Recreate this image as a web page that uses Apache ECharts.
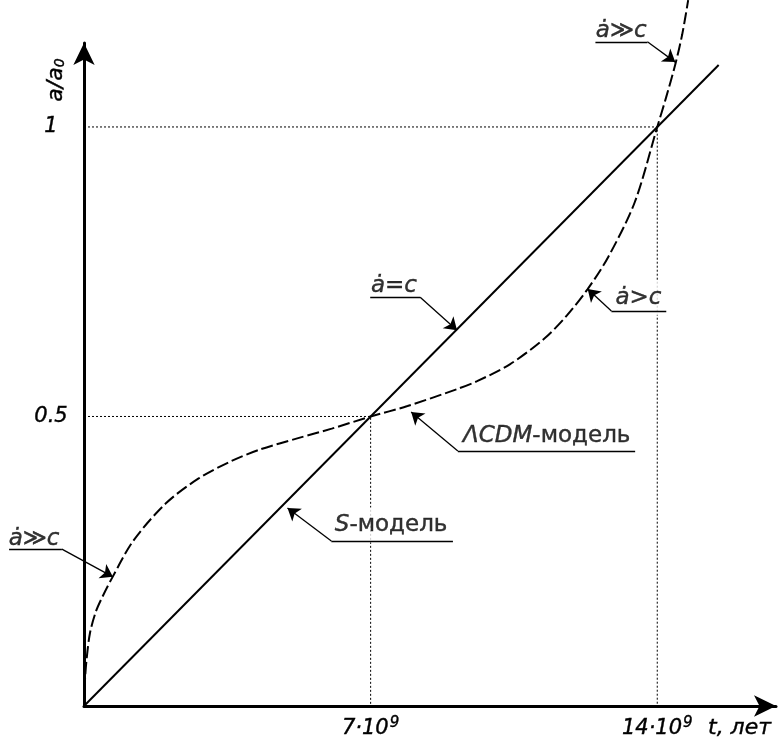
<!DOCTYPE html>
<html>
<head>
<meta charset="utf-8">
<script src="https://cdn.jsdelivr.net/npm/echarts@6/dist/echarts.min.js"></script>
<style>html,body{margin:0;padding:0;background:#fff}#c{width:779px;height:745px}</style>
</head>
<body>
<div id="c"></div>
<script>
// ΛCDM model curve (t in 10^9 years, a/a0)
const lcdmT = [0, 0.007, 0.024, 0.061, 0.146, 0.29, 0.46, 0.7, 1.2, 2.0, 2.8, 3.6, 4.3, 5.25, 6.05, 7.0, 7.9, 9.1, 9.6, 10.4, 11.25, 11.8, 12.3, 12.8, 13.45, 14.0, 14.22, 14.44, 14.61, 14.755];
const lcdmA = [0, 0.019, 0.045, 0.079, 0.126, 0.163, 0.19, 0.223, 0.285, 0.35, 0.393, 0.423, 0.443, 0.463, 0.479, 0.5, 0.518, 0.547, 0.561, 0.59, 0.635, 0.675, 0.72, 0.775, 0.87, 1.0, 1.052, 1.108, 1.16, 1.219];
// S-model straight line
const sT = [0, 15.5];
const sA = [0, 1.107];
// reference (dotted) lines
const ref1T = [0, 14, 14], ref1A = [1, 1, 0];
const ref2T = [0, 7, 7], ref2A = [0.5, 0.5, 0];
// tick labels
const xTickValues = [7, 14];
const xTickLabels = ['{n|7·10}{s|9}', '{n|14·10}{s|9}'];
const yTickValues = [0.5, 1];
const yTickLabels = ['0.5', '1'];
// annotations: text, text position, underline (start, end), arrow tip
const annTexts = ['{i|ȧ≫c}', '{i|ȧ=c}', '{i|ȧ>c}', '{i|ΛCDM}{n|-модель}', '{i|S}{n|-модель}', '{i|ȧ≫c}'];
const annTextT = [13.12, 7.57, 13.54, 11.30, 7.50, -1.22];
const annTextA = [1.166, 0.725, 0.705, 0.4663, 0.3126, 0.288];
const underT = [[12.49, 13.76], [6.99, 8.21], [14.22, 12.88], [13.46, 9.13], [9.01, 6.04], [-1.83, -0.54]];
const underA = [[1.147, 1.147], [0.706, 0.706], [0.682, 0.682], [0.4404, 0.4404], [0.285, 0.285], [0.271, 0.271]];
const tipT = [14.44, 9.11, 12.30, 7.99, 4.97, 0.706];
const tipA = [1.112, 0.649, 0.720, 0.5078, 0.342, 0.223];

const FONT = 'DejaVu Sans';
const TB = {textBorderColor: '#000', textBorderWidth: 0.4};
const zip = (a, b) => a.map((v, i) => [v, b[i]]);
const chart = echarts.init(document.getElementById('c'), null, {renderer: 'canvas'});

chart.setOption({
  backgroundColor: '#fff',
  animation: false,
  grid: {left: 84, right: 1, top: 43, bottom: 39},
  xAxis: {
    type: 'value', min: 0, max: 16.9, interval: 7,
    axisLine: {lineStyle: {color: '#000', width: 3}, symbol: ['none', 'arrow'], symbolSize: [16, 22]},
    axisTick: {show: false}, splitLine: {show: false},
    axisLabel: {
      margin: 10, color: '#000', fontFamily: FONT, fontSize: 21, fontStyle: 'italic',
      formatter: v => { const i = xTickValues.indexOf(v); return i >= 0 ? xTickLabels[i] : ''; },
      rich: {
        n: Object.assign({fontFamily: FONT, fontSize: 21, fontStyle: 'italic', color: '#000', verticalAlign: 'bottom'}, TB),
        s: Object.assign({fontFamily: FONT, fontSize: 15, fontStyle: 'italic', color: '#000', verticalAlign: 'top', padding: [0, 0, 8, 1]}, TB)
      }
    }
  },
  yAxis: {
    type: 'value', min: 0, max: 1.145, interval: 0.5,
    axisLine: {lineStyle: {color: '#000', width: 3}, symbol: ['none', 'arrow'], symbolSize: [16, 22]},
    axisTick: {show: false}, splitLine: {show: false},
    axisLabel: Object.assign({
      margin: 33, align: 'center', color: '#000', fontFamily: FONT, fontSize: 21, fontStyle: 'italic',
      formatter: v => { const i = yTickValues.indexOf(v); return i >= 0 ? yTickLabels[i] : ''; }
    }, TB)
  },
  graphic: [
    {type: 'text', x: 56, y: 80, rotation: Math.PI / 2,
     style: {text: '{n|a/a}{s|0}', align: 'center', verticalAlign: 'middle',
       rich: {n: {fontFamily: FONT, fontSize: 22, fontStyle: 'italic', fill: '#000', stroke: '#000', lineWidth: 0.4},
              s: {fontFamily: FONT, fontSize: 14, fontStyle: 'italic', fill: '#000', stroke: '#000', lineWidth: 0.4, verticalAlign: 'bottom', padding: [6, 0, 0, 0]}}}},
    {type: 'text', x: 708, y: 728,
     style: {text: 't, лет', fontFamily: FONT, fontSize: 22, fontStyle: 'italic', fill: '#000', stroke: '#000', lineWidth: 0.4, verticalAlign: 'middle'}}
  ],
  series: [
    {type: 'line', data: zip(ref1T, ref1A), symbol: 'none', z: 1, silent: true,
     lineStyle: {color: '#000', width: 1, type: [2, 2]}},
    {type: 'line', data: zip(ref2T, ref2A), symbol: 'none', z: 1, silent: true,
     lineStyle: {color: '#000', width: 1, type: [2, 2]}},
    {type: 'line', data: zip(sT, sA), symbol: 'none', z: 2, clip: false,
     lineStyle: {color: '#000', width: 2}},
    {type: 'line', data: zip(lcdmT, lcdmA), symbol: 'none', z: 2, clip: false, smooth: 0.3,
     lineStyle: {color: '#000', width: 2, type: [12, 4]}},
    {type: 'scatter', z: 3, clip: false, symbolSize: 1, itemStyle: {color: 'rgba(0,0,0,0)'}, silent: true,
     data: annTexts.map((t, i) => ({value: [annTextT[i], annTextA[i]], name: t})),
     label: {show: true, position: 'inside', formatter: p => p.name,
       backgroundColor: '#fff', padding: [6, 3, 6, 3],
       rich: {i: Object.assign({fontFamily: FONT, fontSize: 23, fontStyle: 'italic', color: '#000'}, TB),
              n: Object.assign({fontFamily: FONT, fontSize: 23, color: '#000'}, TB)}}},
    {type: 'lines', coordinateSystem: 'cartesian2d', z: 4, clip: false, silent: true,
     symbol: ['none', 'none'],
     lineStyle: {color: '#000', width: 1.3, opacity: 1},
     data: underT.map((ts, i) => ({coords: zip(ts, underA[i])}))},
    {type: 'lines', coordinateSystem: 'cartesian2d', z: 4, clip: false, silent: true,
     symbol: ['none', 'arrow'], symbolSize: [7, 12],
     lineStyle: {color: '#000', width: 1.3, opacity: 1},
     data: underT.map((ts, i) => ({coords: [[ts[1], underA[i][1]], [tipT[i], tipA[i]]]}))}
  ]
});
</script>
</body>
</html>
